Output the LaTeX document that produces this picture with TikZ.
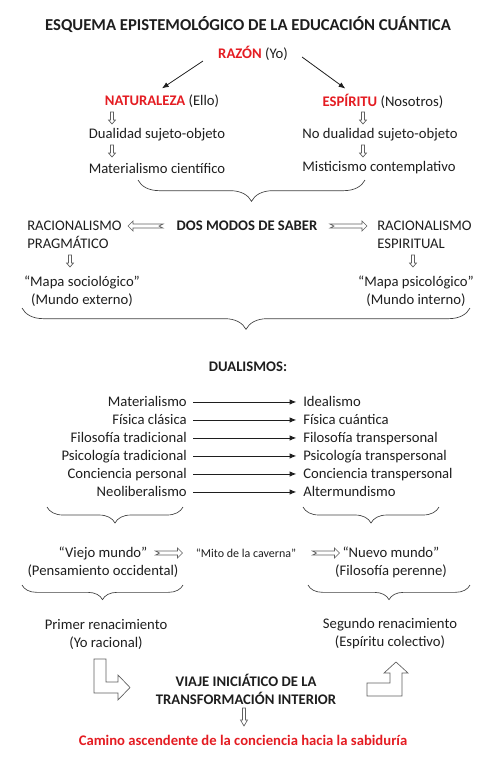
\documentclass[tikz,border=0pt]{standalone}
\usepackage{fontspec}
\setmainfont{Carlito}
\usetikzlibrary{arrows.meta,positioning,calc,decorations.pathreplacing}
\definecolor{ink}{RGB}{30,30,30}
\definecolor{redt}{RGB}{228,28,34}
\definecolor{hollow}{RGB}{95,95,95}
\tikzset{
  txt/.style={font=\fontsize{11}{13.5}\selectfont,text=ink,inner sep=0pt,align=center},
  bld/.style={txt,font=\fontsize{11}{13.5}\selectfont\bfseries},
  ttl/.style={txt,font=\fontsize{12.5}{15}\selectfont\bfseries},
  arr/.style={-{Latex[length=5pt,width=4pt]},ink,line width=0.6pt},
  brc/.style={decorate,decoration={brace,mirror,amplitude=#1},draw=ink!85,line width=0.5pt},
  hol/.style={draw=hollow,line width=0.5pt,fill=white},
  dnar/.pic={\draw[hol] (-1.5,-6)--(1.5,-6)--(1.5,2)--(3.5,2)--(0,6)--(-3.5,2)--(-1.5,2)--cycle;},
  notchR/.pic={\draw[hol] (-#1,-2)--(#1-5,-2)--(#1-5,-5)--(#1,0)--(#1-5,5)--(#1-5,2)--(-#1,2)
    --(-#1+4,0)--cycle;},
}
\newcommand{\rd}[1]{\textcolor{redt}{\bfseries #1}}

\begin{document}
\begin{tikzpicture}[x=0.75pt,y=-0.75pt]
\useasboundingbox (0,0) rectangle (494,768);
% top: razon and its two branches
\node[ttl] (title) at (248,25) {ESQUEMA EPISTEMOLÓGICO DE LA EDUCACIÓN CUÁNTICA};
\node[txt] (razon) at (253,53) {\rd{RAZÓN} (Yo)};
\node[txt] (nat) at (162,101) {\rd{NATURALEZA} (Ello)};
\node[txt] (esp) at (383,101) {\rd{ESPÍRITU} (Nosotros)};
\draw[arr] ([shift={(-15,8)}]razon.west) -- ([yshift=4.5pt]nat.north);
\draw[arr] ([shift={(14,4)}]razon.east) -- ([shift={(23,-5)}]esp.north west);
\node[txt] (dual) at (157,135) {Dualidad sujeto-objeto};
\node[txt] (mat) at (157,168) {Materialismo científico};
\node[txt] (nodual) at (380,135) {No dualidad sujeto-objeto};
\node[txt] (mist) at (379,168) {Misticismo contemplativo};
\foreach \x in {112,363}{
  \pic at (\x,118) {dnar};
  \pic at (\x,151) {dnar};}
\draw[brc=16pt] (138,180) -- (365,180);

% dos modos de saber
\node[bld] (dos) at (247,226) {DOS MODOS DE SABER};
\node[txt,align=left,anchor=west] (racL) at (27,235) {RACIONALISMO\\PRAGMÁTICO};
\node[txt,align=left,anchor=west] (racR) at (377,235) {RACIONALISMO\\ESPIRITUAL};
\pic[rotate=180] at (145.5,226) {notchR=17.5};
\pic at (348.5,226) {notchR=18.5};
\pic at (70,261) {dnar};
\pic at (413,261) {dnar};
\node[txt] (mapaS) at (82,291) {“Mapa sociológico”\\(Mundo externo)};
\node[txt] (mapaP) at (416,291) {“Mapa psicológico”\\(Mundo interno)};
\draw[brc=16pt] (22,308) -- (470,308);

% dualismos
\node[bld] (dua) at (248,367) {DUALISMOS:};
\foreach \i/\a/\b in {0/Materialismo/Idealismo,1/Física clásica/Física cuántica,
    2/Filosofía tradicional/Filosofía transpersonal,3/Psicología tradicional/Psicología transpersonal,
    4/Conciencia personal/Conciencia transpersonal,5/Neoliberalismo/Altermundismo}{
  \node[txt,anchor=base east] (l\i) at (187,406.5+18*\i) {\a};
  \node[txt,anchor=base west] (r\i) at (303,406.5+18*\i) {\b};
  \draw[arr] ([xshift=4.5pt,yshift=3.4pt]l\i.base east) -- ([xshift=-5pt,yshift=3.4pt]r\i.base west);}
\draw[brc=12pt] (47,507) -- (183,507);
\draw[brc=12pt] (303,507) -- (439,507);

% viejo y nuevo mundo
\node[txt] (viejo) at (103,562) {“Viejo mundo”\\(Pensamiento occidental)};
\node[txt,font=\fontsize{9}{11}\selectfont] (mito) at (246,553) {“Mito de la caverna”};
\node[txt] (nuevo) at (391,562) {“Nuevo mundo”\\(Filosofía perenne)};
\pic at (169,553) {notchR=13.5};
\pic at (326,553) {notchR=13.5};
\draw[brc=11pt] (22,585) -- (183,585);
\draw[brc=11pt] (308,585) -- (470,585);
\node[txt] (primer) at (106,634) {Primer renacimiento\\(Yo racional)};
\node[txt] (segundo) at (390,634) {Segundo renacimiento\\(Espíritu colectivo)};

% viaje iniciatico
\draw[hol] (94,659) -- (106,659) -- (106,682) -- (118,682) -- (118,675) -- (130,687.5)
  -- (118,700) -- (118,693) -- (94,693) -- cycle;
\draw[hol] (367,683) -- (390,683) -- (390,673) -- (384,673) -- (396,662) -- (408,673)
  -- (402,673) -- (402,696) -- (367,696) -- cycle;
\node[bld] (viaje) at (246,689) {VIAJE INICIÁTICO DE LA\\TRANSFORMACIÓN INTERIOR};
\pic[yscale=1.5] at (244,717) {dnar};
\node[bld,text=redt] (camino) at (243,740) {Camino ascendente de la conciencia hacia la sabiduría};
\end{tikzpicture}
\end{document}
